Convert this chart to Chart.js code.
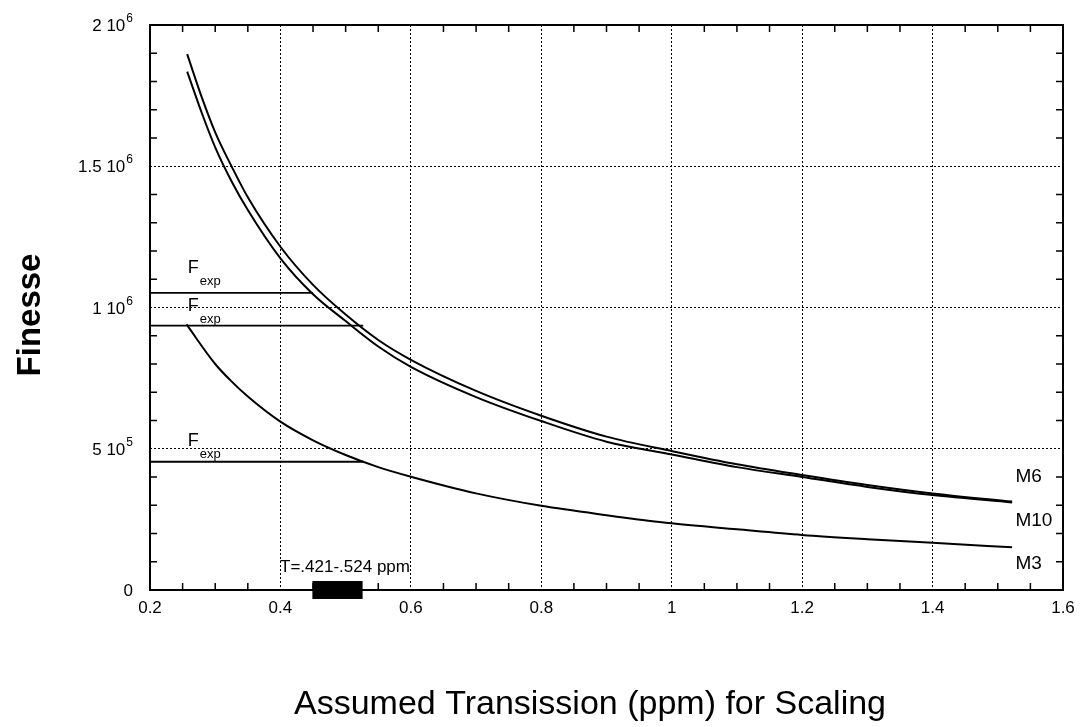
<!DOCTYPE html>
<html>
<head>
<meta charset="utf-8">
<script src="https://cdn.jsdelivr.net/npm/chart.js@4.4.1/dist/chart.umd.min.js"></script>
<style>
  html, body { margin: 0; padding: 0; background: #fff; }
</style>
</head>
<body>
<canvas id="chart" width="1084" height="727"></canvas>
<script>
// values (x = assumed transmission in ppm, y = finesse)
const xM6 = [0.257, 0.28, 0.3, 0.325, 0.35, 0.4, 0.45, 0.5, 0.55, 0.6, 0.7, 0.8, 0.9, 1.0, 1.1, 1.2, 1.3, 1.4, 1.522];
const yM6 = [1.897e6, 1.74e6, 1.62e6, 1.5e6, 1.39e6, 1.215e6, 1.08e6, 0.975e6, 0.885e6, 0.815e6, 0.705e6, 0.617e6, 0.543e6, 0.492e6, 0.445e6, 0.407e6, 0.372e6, 0.342e6, 0.313e6];

const xM10 = [0.257, 0.28, 0.3, 0.325, 0.35, 0.4, 0.45, 0.5, 0.55, 0.6, 0.7, 0.8, 0.9, 1.0, 1.1, 1.2, 1.3, 1.4, 1.522];
const yM10 = [1.835e6, 1.685e6, 1.567e6, 1.447e6, 1.345e6, 1.174e6, 1.047e6, 0.952e6, 0.862e6, 0.79e6, 0.683e6, 0.598e6, 0.525e6, 0.48e6, 0.435e6, 0.40e6, 0.365e6, 0.336e6, 0.31e6];

const xM3 = [0.256, 0.3, 0.323, 0.35, 0.4, 0.45, 0.5, 0.55, 0.6, 0.7, 0.8, 0.9, 1.0, 1.1, 1.2, 1.3, 1.4, 1.522];
const yM3 = [0.94e6, 0.8e6, 0.743e6, 0.685e6, 0.596e6, 0.53e6, 0.478e6, 0.435e6, 0.401e6, 0.342e6, 0.298e6, 0.265e6, 0.236e6, 0.215e6, 0.195e6, 0.18e6, 0.167e6, 0.151e6];

// horizontal F_exp levels and where each one stops
const fexpLevels = [1.052e6, 0.936e6, 0.454e6];
const fexpEnds = [0.45, 0.527, 0.527];

// T band on the x axis
const tBand = [0.449, 0.526];
const tLabel = 'T=.421-.524 ppm';
const tLabelX = 0.499;

const xTickLabels = ['0.2', '0.4', '0.6', '0.8', '1', '1.2', '1.4', '1.6'];
const yTickValues = [0, 5e5, 1e6, 1.5e6, 2e6];
const yTickBase = ['0', '5 10', '1 10', '1.5 10', '2 10'];
const yTickExp = ['', '5', '6', '6', '6'];

const minorXTicks = [0.25, 0.3, 0.35, 0.45, 0.5, 0.55, 0.65, 0.7, 0.75, 0.85, 0.9, 0.95,
  1.05, 1.1, 1.15, 1.25, 1.3, 1.35, 1.45, 1.5, 1.55];
const minorYTicks = [1e5, 2e5, 3e5, 4e5, 6e5, 7e5, 8e5, 9e5, 1.1e6, 1.2e6, 1.3e6, 1.4e6,
  1.6e6, 1.7e6, 1.8e6, 1.9e6];

const curveNames = ['M6', 'M10', 'M3'];
const curveLabelX = [1.527, 1.527, 1.527];
const curveLabelY = [0.382e6, 0.227e6, 0.074e6];

const fexpLabelX = 0.258;
const fexpLabelY = [1.122e6, 0.988e6, 0.51e6];

const xTitle = 'Assumed Transission (ppm) for Scaling';
const yTitle = 'Finesse';

const FONT = '"Liberation Sans", Arial, Helvetica, sans-serif';
Chart.defaults.font.family = FONT;
Chart.defaults.color = '#000';

function toPoints(xs, ys) {
  return xs.map((x, i) => ({ x, y: ys[i] }));
}

const curve = {
  showLine: true,
  borderColor: '#000',
  borderWidth: 2,
  pointRadius: 0,
  fill: false,
  cubicInterpolationMode: 'monotone'
};

const datasets = [
  { label: 'M6', data: toPoints(xM6, yM6), ...curve },
  { label: 'M10', data: toPoints(xM10, yM10), ...curve },
  { label: 'M3', data: toPoints(xM3, yM3), ...curve }
];

fexpLevels.forEach((level, i) => {
  datasets.push({
    label: 'Fexp ' + (i + 1),
    data: [{ x: 0.2, y: level }, { x: fexpEnds[i], y: level }],
    showLine: true,
    borderColor: '#000',
    borderWidth: 1.8,
    pointRadius: 0
  });
});

datasets.push({
  label: 'T',
  data: [{ x: tBand[0], y: 0 }, { x: tBand[1], y: 0 }],
  showLine: true,
  borderColor: '#000',
  borderWidth: 18,
  borderCapStyle: 'butt',
  pointRadius: 0,
  clip: false
});

const framePlugin = {
  id: 'frame',
  afterDatasetsDraw(chart) {
    const { ctx, chartArea: a, scales: { x, y } } = chart;
    ctx.save();
    ctx.strokeStyle = '#000';
    ctx.lineWidth = 2;
    ctx.strokeRect(a.left, a.top, a.right - a.left, a.bottom - a.top);

    // inward minor ticks on all four sides
    ctx.lineWidth = 1.5;
    ctx.beginPath();
    minorXTicks.forEach((v) => {
      const px = x.getPixelForValue(v);
      ctx.moveTo(px, a.bottom); ctx.lineTo(px, a.bottom - 7);
      ctx.moveTo(px, a.top); ctx.lineTo(px, a.top + 7);
    });
    minorYTicks.forEach((v) => {
      const py = y.getPixelForValue(v);
      ctx.moveTo(a.left, py); ctx.lineTo(a.left + 7, py);
      ctx.moveTo(a.right, py); ctx.lineTo(a.right - 7, py);
    });
    ctx.stroke();

    ctx.fillStyle = '#000';
    ctx.textBaseline = 'alphabetic';

    // y tick labels like "1.5 10^6"
    yTickValues.forEach((v, i) => {
      const py = y.getPixelForValue(v) + 6;
      let right = a.left - 17;
      ctx.textAlign = 'right';
      if (yTickExp[i]) {
        ctx.font = '12px ' + FONT;
        ctx.fillText(yTickExp[i], right, py - 9);
        right -= ctx.measureText(yTickExp[i]).width + 1;
      }
      ctx.font = '17px ' + FONT;
      ctx.fillText(yTickBase[i], right, py);
    });

    ctx.textAlign = 'left';
    ctx.font = '19px ' + FONT;
    curveNames.forEach((name, i) => {
      ctx.fillText(name, x.getPixelForValue(curveLabelX[i]), y.getPixelForValue(curveLabelY[i]));
    });

    fexpLabelY.forEach((v) => {
      const px = x.getPixelForValue(fexpLabelX);
      const py = y.getPixelForValue(v);
      ctx.font = '18px ' + FONT;
      ctx.fillText('F', px, py);
      ctx.font = '13px ' + FONT;
      ctx.fillText('exp', px + 12, py + 12);
    });

    ctx.font = '17px ' + FONT;
    ctx.textAlign = 'center';
    ctx.fillText(tLabel, x.getPixelForValue(tLabelX), a.bottom - 18);

    // axis titles
    ctx.font = '34px ' + FONT;
    ctx.fillText(xTitle, 590, 714);
    ctx.save();
    ctx.translate(40, 315);
    ctx.rotate(-Math.PI / 2);
    ctx.font = 'bold 33px ' + FONT;
    ctx.fillText(yTitle, 0, 0);
    ctx.restore();

    ctx.restore();
  }
};

new Chart(document.getElementById('chart'), {
  type: 'scatter',
  data: { datasets },
  options: {
    responsive: false,
    animation: false,
    layout: { padding: { top: 25, right: 21, left: 0, bottom: 0 } },
    plugins: {
      legend: { display: false },
      tooltip: { enabled: false }
    },
    scales: {
      x: {
        type: 'linear',
        min: 0.2,
        max: 1.6,
        afterFit(scale) { scale.height = 137; },
        ticks: {
          stepSize: 0.2,
          autoSkip: false,
          maxRotation: 0,
          padding: 8,
          font: { size: 17 },
          callback: (value, index) => xTickLabels[index]
        },
        grid: { color: '#000', lineWidth: 1, drawTicks: false },
        border: { display: false, dash: [2, 2] }
      },
      y: {
        min: 0,
        max: 2e6,
        afterFit(scale) { scale.width = 150; },
        ticks: {
          stepSize: 5e5,
          display: false
        },
        grid: { color: '#000', lineWidth: 1, drawTicks: false },
        border: { display: false, dash: [2, 2] }
      }
    }
  },
  plugins: [framePlugin]
});
</script>
</body>
</html>
